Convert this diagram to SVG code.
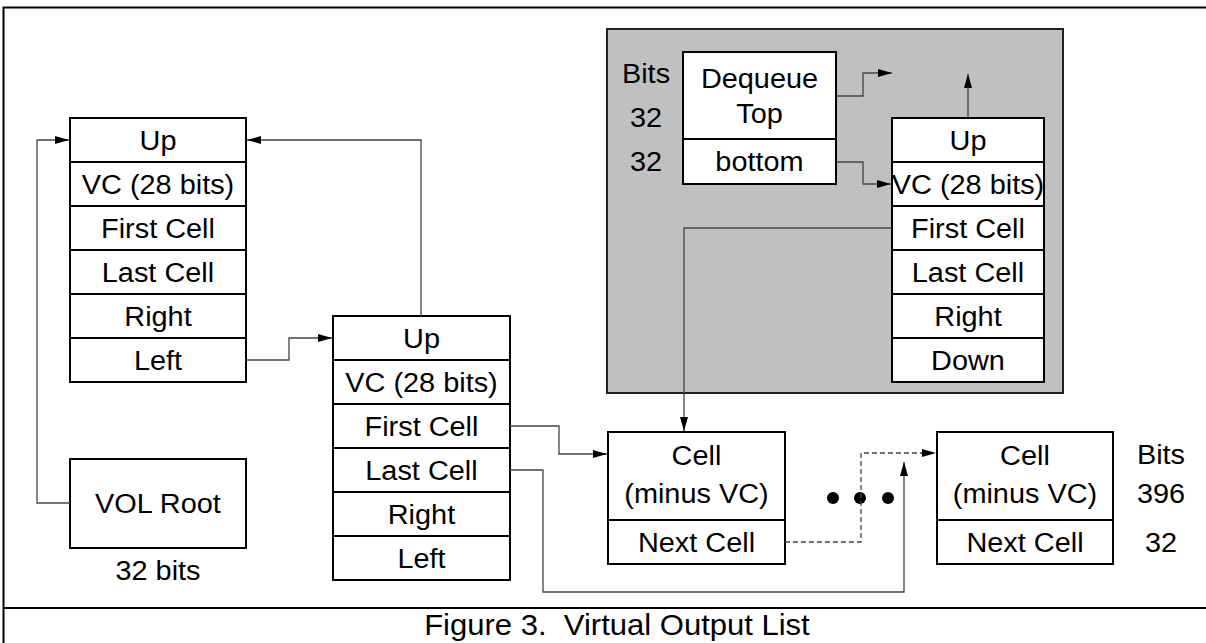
<svg xmlns="http://www.w3.org/2000/svg" width="1206" height="643" viewBox="0 0 1206 643">
<style>
.bx{fill:#fff;stroke:#000;stroke-width:2}
.rl{stroke:#000;stroke-width:2;fill:none}
.t{font-family:"Liberation Sans",Arial,sans-serif;font-size:27px;fill:#000;text-anchor:middle;transform-box:fill-box;transform-origin:center;transform:scaleX(1.07)}
.cap{font-size:29px}
.c{fill:none;stroke:#444;stroke-width:1.3}
.d{fill:none;stroke:#444;stroke-width:1.3;stroke-dasharray:5,3}
</style>
<defs>
<marker id="ah" markerUnits="userSpaceOnUse" markerWidth="14" markerHeight="8" refX="14" refY="4" orient="auto">
<path d="M0,0 L14,4 L0,8 z" fill="#000"/>
</marker>
</defs>
<rect x="3.5" y="7.5" width="1210" height="650" fill="#fff" stroke="#000" stroke-width="2"/>
<line x1="3" y1="608" x2="1206" y2="608" stroke="#000" stroke-width="2"/>
<rect id="gray-region" x="607" y="29" width="456" height="364" fill="#c0c0c0" stroke="#222" stroke-width="2"/>

<g id="node-vc1">
<rect class="bx" x="70" y="118" width="176" height="264"/>
<path class="rl" d="M70,162H246M70,206H246M70,250H246M70,294H246M70,338H246"/>
<text class="t" x="158" y="150">Up</text>
<text class="t" x="158" y="194">VC (28 bits)</text>
<text class="t" x="158" y="238">First Cell</text>
<text class="t" x="158" y="282">Last Cell</text>
<text class="t" x="158" y="326">Right</text>
<text class="t" x="158" y="370">Left</text>
</g>

<g id="node-vol-root">
<rect class="bx" x="70" y="459" width="176" height="89"/>
<text class="t" x="158" y="513">VOL Root</text>
<text class="t" x="158" y="580">32 bits</text>
</g>

<g id="node-vc2">
<rect class="bx" x="333" y="316" width="177" height="264"/>
<path class="rl" d="M333,360H510M333,404H510M333,448H510M333,492H510M333,536H510"/>
<text class="t" x="421.5" y="348">Up</text>
<text class="t" x="421.5" y="392">VC (28 bits)</text>
<text class="t" x="421.5" y="436">First Cell</text>
<text class="t" x="421.5" y="480">Last Cell</text>
<text class="t" x="421.5" y="524">Right</text>
<text class="t" x="421.5" y="568">Left</text>
</g>

<g id="node-dequeue">
<rect class="bx" x="683" y="52" width="153" height="132"/>
<path class="rl" d="M683,139H836"/>
<text class="t" x="759.5" y="88">Dequeue</text>
<text class="t" x="759.5" y="123">Top</text>
<text class="t" x="759.5" y="171">bottom</text>
<text class="t" x="646" y="83">Bits</text>
<text class="t" x="646" y="127">32</text>
<text class="t" x="646" y="171">32</text>
</g>

<g id="node-vc3">
<rect class="bx" x="892" y="118" width="152" height="264"/>
<path class="rl" d="M892,162H1044M892,206H1044M892,250H1044M892,294H1044M892,338H1044"/>
<text class="t" x="968" y="150">Up</text>
<text class="t" x="968" y="194">VC (28 bits)</text>
<text class="t" x="968" y="238">First Cell</text>
<text class="t" x="968" y="282">Last Cell</text>
<text class="t" x="968" y="326">Right</text>
<text class="t" x="968" y="370">Down</text>
</g>

<g id="node-cell1">
<rect class="bx" x="608" y="432" width="177" height="132"/>
<path class="rl" d="M608,520H785"/>
<text class="t" x="696.5" y="465">Cell</text>
<text class="t" x="696.5" y="503">(minus VC)</text>
<text class="t" x="696.5" y="552">Next Cell</text>
</g>

<g id="node-cell2">
<rect class="bx" x="937" y="432" width="176" height="132"/>
<path class="rl" d="M937,520H1113"/>
<text class="t" x="1025" y="465">Cell</text>
<text class="t" x="1025" y="503">(minus VC)</text>
<text class="t" x="1025" y="552">Next Cell</text>
<text class="t" x="1161" y="464">Bits</text>
<text class="t" x="1161" y="503">396</text>
<text class="t" x="1161" y="552">32</text>
</g>

<g id="ellipsis">
<circle cx="833" cy="498" r="6" fill="#000"/>
<circle cx="860" cy="498" r="6" fill="#000"/>
<circle cx="888" cy="498" r="6" fill="#000"/>
</g>

<g id="connectors">
<path class="c" d="M70,503H37V140H69" marker-end="url(#ah)"/>
<path class="c" d="M421,316V140H247" marker-end="url(#ah)"/>
<path class="c" d="M246,360H289V338H332" marker-end="url(#ah)"/>
<path class="c" d="M510,426H559V454H607" marker-end="url(#ah)"/>
<path class="c" d="M510,470H543V592H904V462" marker-end="url(#ah)"/>
<path class="d" d="M785,542H861V453H936" marker-end="url(#ah)"/>
<path class="c" d="M836,96H863V73H892" marker-end="url(#ah)"/>
<path class="c" d="M836,162H863V184H891" marker-end="url(#ah)"/>
<path class="c" d="M968,118V74" marker-end="url(#ah)"/>
<path class="c" d="M892,228H684V431" marker-end="url(#ah)"/>
</g>

<text id="caption" class="t cap" x="617" y="635">Figure 3.&#160;&#160;Virtual Output List</text>
</svg>
